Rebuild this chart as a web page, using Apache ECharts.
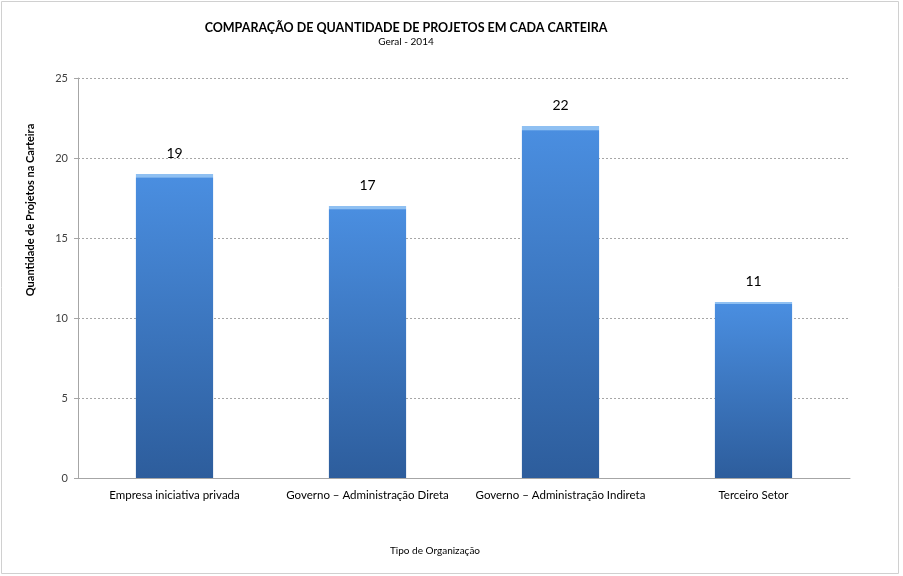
<!DOCTYPE html>
<html>
<head>
<meta charset="utf-8">
<script src="https://cdn.jsdelivr.net/npm/echarts@6/dist/echarts.min.js"></script>
<style>
html,body{margin:0;padding:0;background:#fff;}
#c{width:903px;height:576px;}
</style>
</head>
<body>
<div id="c"></div>
<script>
const categories = ["Empresa iniciativa privada", "Governo – Administração Direta", "Governo – Administração Indireta", "Terceiro Setor"];
const values = [19, 17, 22, 11];
const titleText = "COMPARAÇÃO DE QUANTIDADE DE PROJETOS EM CADA CARTEIRA";
const subtitleText = "Geral - 2014";
const yAxisTitle = "Quantidade de Projetos na Carteira";
const xAxisTitle = "Tipo de Organização";

const FONT = "Lato, 'Open Sans', sans-serif";
const chart = echarts.init(document.getElementById('c'));
chart.setOption({
  animation: false,
  backgroundColor: '#fff',
  title: {
    text: titleText,
    subtext: subtitleText,
    left: 401,
    textAlign: 'center',
    top: 16,
    itemGap: 3,
    textStyle: {fontFamily: FONT, fontSize: 12.5, fontWeight: 'bold', color: '#000'},
    subtextStyle: {fontFamily: FONT, fontSize: 10, color: '#000'}
  },
  grid: {left: 78, right: 53, top: 78, bottom: 98},
  xAxis: {
    type: 'category',
    data: categories,
    axisLine: {lineStyle: {color: '#a6a6a6'}},
    axisTick: {show: false},
    axisLabel: {interval: 0, fontFamily: FONT, fontSize: 11.5, color: '#000', margin: 11}
  },
  yAxis: {
    type: 'value',
    min: 0, max: 25, interval: 5,
    axisLine: {show: true, lineStyle: {color: '#a6a6a6'}},
    axisTick: {show: true, length: 4, lineStyle: {color: '#a6a6a6'}},
    axisLabel: {fontFamily: FONT, fontSize: 11, color: '#404040', margin: 10},
    splitLine: {lineStyle: {color: '#a6a6a6', type: [2, 2]}}
  },
  series: [{
    type: 'bar',
    data: values,
    barWidth: '40%',
    itemStyle: {
      color: new echarts.graphic.LinearGradient(0, 0, 0, 1, [
        {offset: 0, color: '#8fc0f2'},
        {offset: 0.01, color: '#8fc0f2'},
        {offset: 0.014, color: '#4a8ee0'},
        {offset: 1, color: '#2d5d9c'}
      ])
    },
    label: {show: true, position: 'top', distance: 14, fontFamily: FONT, fontSize: 14, color: '#000'}
  }],
  graphic: [
    {type: 'rect', shape: {x: 1.5, y: 1.5, width: 897, height: 572}, style: {fill: null, stroke: '#d0d0d0', lineWidth: 1}, silent: true},
    {type: 'text', x: 30, y: 210, rotation: Math.PI / 2, style: {text: yAxisTitle, fontFamily: FONT, fontSize: 11, fontWeight: 'bold', fill: '#000', align: 'center', verticalAlign: 'middle'}},
    {type: 'text', x: 435, y: 551, style: {text: xAxisTitle, fontFamily: FONT, fontSize: 10, fill: '#000', align: 'center', verticalAlign: 'middle'}}
  ]
});
</script>
</body>
</html>
